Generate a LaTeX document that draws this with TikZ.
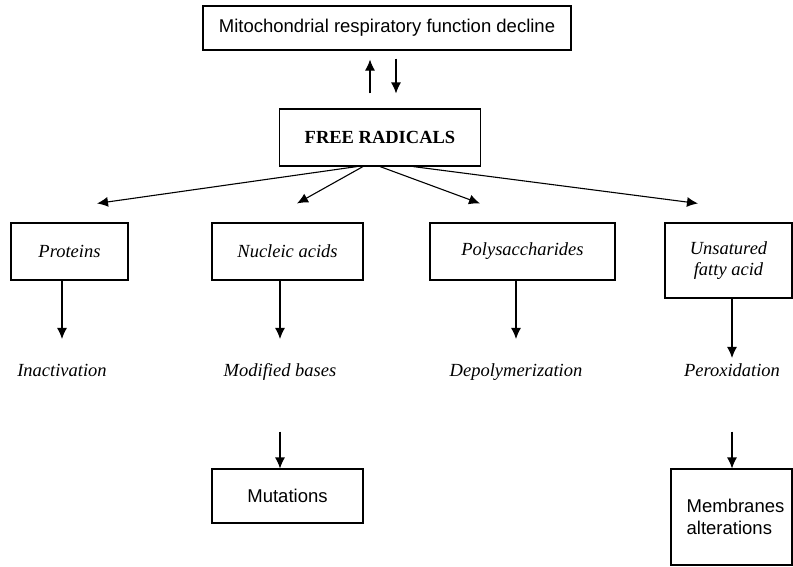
\documentclass[tikz,border=0pt]{standalone}
\usepackage{fontspec}
\setmainfont{Liberation Serif}
\setsansfont{Liberation Sans}
\usepackage{tikz}
\usetikzlibrary{arrows.meta}
\tikzset{>={Latex[length=11pt,width=10pt]}}
\tikzset{box/.style={draw, rectangle, line width=1.1pt, inner sep=0pt, align=center},
         lbl/.style={inner sep=0pt, anchor=base, text height=13pt, text depth=4pt, font=\itshape\fontsize{18.5}{21}\selectfont}}

\begin{document}
\begin{tikzpicture}[x=1pt, y=-1pt, line width=1.1pt]
                \useasboundingbox (0,0) rectangle (793,566);
                % Nodes
                \node [box, minimum width=368pt, minimum height=44pt, font=\sffamily\fontsize{18.5}{21}\selectfont] (top) at (387,28) {Mitochondrial respiratory function decline};
                \node [box, minimum width=201pt, minimum height=57pt, font=\bfseries\fontsize{18.5}{21}\selectfont] (fr) at (380,137.5) {FREE RADICALS};
                \node [box, minimum width=117pt, minimum height=57pt, font=\itshape\fontsize{18.5}{21}\selectfont] (prot) at (69.5,251.5) {Proteins};
                \node [box, minimum width=151pt, minimum height=57pt, font=\itshape\fontsize{18.5}{21}\selectfont] (nuc) at (287.5,251.5) {Nucleic acids};
                \node [box, minimum width=185pt, minimum height=57pt, font=\itshape\fontsize{18.5}{21}\selectfont] (poly) at (522.5,251.5) {Polysaccharides};
                \node [box, minimum width=127pt, minimum height=75pt, font=\itshape\fontsize{18.5}{21}\selectfont] (unsat) at (728.5,260.5) {Unsatured\\fatty acid};
                \node [lbl] (inact) at (62,376) {Inactivation};
                \node [lbl] (mod) at (280,376) {Modified bases};
                \node [lbl] (depol) at (516,376) {Depolymerization};
                \node [lbl] (perox) at (732,376) {Peroxidation};
                \node [box, minimum width=151pt, minimum height=54pt, font=\sffamily\fontsize{18.5}{21}\selectfont] (mut) at (287.5,496) {Mutations};
                \node [box, minimum width=121pt, minimum height=96pt, align=left, font=\sffamily\fontsize{18.5}{22}\selectfont] (memb) at (731.5,517) {\hspace*{8pt}Membranes\\\hspace*{8pt}alterations};
                
                % Arrows
                \draw[->] ([xshift=-10pt,yshift=15pt]fr.north) -- ([xshift=-17pt,yshift=-9pt]top.south);
                \draw[->] ([xshift=9pt,yshift=-8pt]top.south) -- ([xshift=16pt,yshift=15pt]fr.north);
                \draw[->] ([xshift=-23pt]fr.south) -- ([xshift=27.5pt,yshift=19pt]prot.north);
                \draw[->] ([xshift=-17pt]fr.south) -- ([xshift=9.5pt,yshift=19pt]nuc.north);
                \draw[->] (fr.south) -- ([xshift=-42.5pt,yshift=19pt]poly.north);
                \draw[->] ([xshift=33pt]fr.south) -- ([xshift=-30.5pt,yshift=19pt]unsat.north);
                \draw[->, shorten >=23.5pt] (prot.south -| inact) -- (inact.north);
                \draw[->, shorten >=23.5pt] (nuc.south -| mod) -- (mod.north);
                \draw[->, shorten >=23.5pt] (poly.south -| depol) -- (depol.north);
                \draw[->, shorten >=4.5pt] (unsat.south -| perox) -- (perox.north);
                \draw[->, shorten <=51pt] (mod.south) -- (mod.south |- mut.north);
                \draw[->, shorten <=51pt] (perox.south) -- (perox.south |- memb.north);
            \end{tikzpicture}
\end{document}
